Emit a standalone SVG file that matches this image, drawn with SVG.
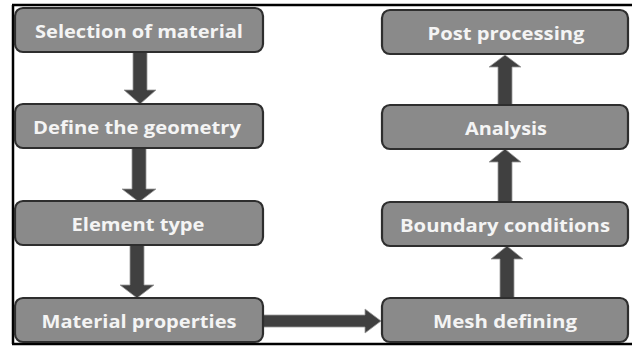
<svg xmlns="http://www.w3.org/2000/svg" width="632" height="348" viewBox="0 0 632 348">
<style>
.box{fill:#8a8a8a;stroke:#2e2e2e;stroke-width:2.2}
.lbl{font-family:"Open Sans","Noto Sans",sans-serif;font-weight:bold;font-size:17px;fill:#f4f4f4;text-anchor:middle;dominant-baseline:central}
.arr{fill:#404040;stroke:#9a9a9a;stroke-width:0.8}
.frame{stroke:#000;stroke-width:2.5;fill:none}
</style>
<rect width="632" height="348" fill="#ffffff"/>
<g id="frame">
<line class="frame" x1="12" y1="5" x2="632" y2="5"/>
<line class="frame" x1="13" y1="5" x2="13" y2="344"/>
<line class="frame" x1="12" y1="344" x2="632" y2="344"/>
</g>
<g id="connectors">
<polygon class="arr" points="133,52 147,52 147,90 156,90 140,104 124,90 133,90"/>
<polygon class="arr" points="132,148 146,148 146,189 156,189 139,202 122,189 132,189"/>
<polygon class="arr" points="130,245 144,245 144,285 154,285 137,298 120,285 130,285"/>
<polygon class="arr" points="263,315 365,315 365,309 381,321 365,333 365,327 263,327"/>
<polygon class="arr" points="500,298 514,298 514,259 523,259 507,246 491,259 500,259"/>
<polygon class="arr" points="498,202 512,202 512,162 521,162 505,149 489,162 498,162"/>
<polygon class="arr" points="498,105 512,105 512,67 521,67 505,55 489,67 498,67"/>
</g>
<g id="n1"><rect class="box" x="15" y="8" width="248" height="44" rx="8"/><text class="lbl" x="139" y="31" textLength="208" lengthAdjust="spacingAndGlyphs">Selection of material</text></g>
<g id="n2"><rect class="box" x="15" y="104" width="248" height="44" rx="8"/><text class="lbl" x="137" y="127" textLength="208" lengthAdjust="spacingAndGlyphs">Define the geometry</text></g>
<g id="n3"><rect class="box" x="15" y="201" width="248" height="44" rx="8"/><text class="lbl" x="138" y="224" textLength="133" lengthAdjust="spacingAndGlyphs">Element type</text></g>
<g id="n4"><rect class="box" x="15" y="298" width="248" height="44" rx="8"/><text class="lbl" x="139" y="321" textLength="195" lengthAdjust="spacingAndGlyphs">Material properties</text></g>
<g id="n5"><rect class="box" x="382" y="298" width="246" height="44" rx="8"/><text class="lbl" x="505" y="321" textLength="144" lengthAdjust="spacingAndGlyphs">Mesh defining</text></g>
<g id="n6"><rect class="box" x="382" y="202" width="246" height="44" rx="8"/><text class="lbl" x="505" y="225" textLength="210" lengthAdjust="spacingAndGlyphs">Boundary conditions</text></g>
<g id="n7"><rect class="box" x="382" y="105" width="246" height="44" rx="8"/><text class="lbl" x="506" y="128" textLength="82" lengthAdjust="spacingAndGlyphs">Analysis</text></g>
<g id="n8"><rect class="box" x="382" y="10" width="246" height="44" rx="8"/><text class="lbl" x="506" y="33" textLength="157" lengthAdjust="spacingAndGlyphs">Post processing</text></g>
</svg>
